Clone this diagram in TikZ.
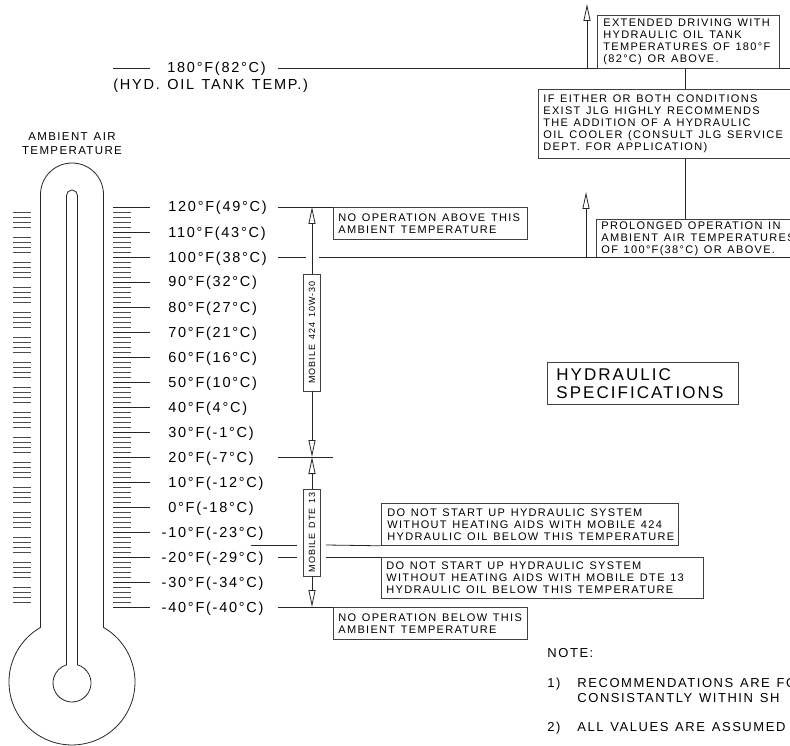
\documentclass[tikz,border=0pt]{standalone}
\usepackage{fontspec}
\newfontfamily\cadfont{Liberation Sans}[LetterSpace=12,WordSpace=1.3]
\usetikzlibrary{arrows.meta,calc,positioning}
\tikzset{
    jlg chart/.style  = {x=1pt, y=-1pt, line width=0.8pt,
                         >={Triangle[open, length=17pt, width=7pt]}},
    line/.style       = {draw=black!85},
    tickmark/.style   = {draw=black!70, line width=0.7pt},
    templabel/.style  = {font=\fontsize{14.5}{16}\cadfont,
                         anchor=base west, inner sep=0pt},
    box/.style        = {draw=black!75, anchor=north west, inner sep=0pt},
    boxtext/.style    = {font=\fontsize{11}{12}\cadfont, align=left,
                         anchor=west, inner sep=0pt},
    oil/.style        = {draw=black!75, minimum width=17pt, inner sep=0pt,
                         font=\fontsize{9}{10}\cadfont},
    notetext/.style   = {font=\fontsize{13}{15}\cadfont, align=left,
                         anchor=west, inner sep=0pt}
}
\begin{document}
\begin{tikzpicture}[jlg chart]
\useasboundingbox (0,0) rectangle (790,746);
\clip (0,0) rectangle (790,746);

% Thermometer outline and bore
\draw[line] (40.5,627.4) -- (40.5,194.5)
    arc[start angle=180, end angle=360, radius=31.5] -- (103.5,627.4)
    arc[start angle=-60, end angle=240, radius=63] -- cycle;
\draw[line] (66.5,664.8) -- (66.5,195.5)
    arc[start angle=180, end angle=360, radius=5.5] -- (77.5,664.8)
    arc[start angle=-73.2, end angle=253.2, radius=19];

% Graduations every 2 degrees
\foreach \k in {0,...,80}
    \draw[tickmark] (113,{207+5*\k}) -- (131,{207+5*\k});
\foreach \k in {1,...,79} {
    \pgfmathtruncatemacro\m{mod(\k,5)}
    \ifnum\m>0 \draw[tickmark] (13,{207+5*\k}) -- (31,{207+5*\k}); \fi
}

% Scale labels with major ticks
\foreach \txt [count=\i from 0] in {120°F(49°C), 110°F(43°C), 100°F(38°C),
        90°F(32°C), 80°F(27°C), 70°F(21°C), 60°F(16°C), 50°F(10°C),
        40°F(4°C), 30°F(-1°C), 20°F(-7°C), 10°F(-12°C), 0°F(-18°C),
        {\llap{-\hspace{2pt}}10°F(-23°C)}, {\llap{-\hspace{2pt}}20°F(-29°C)},
        {\llap{-\hspace{2pt}}30°F(-34°C)}, {\llap{-\hspace{2pt}}40°F(-40°C)}} {
    \coordinate (r\i) at (150,{207+25*\i});
    \draw[line] (113,{207+25*\i}) -- (r\i);
    \node[templabel] (t\i) at (168,{212+25*\i}) {\txt};
}
\node[font=\fontsize{11.5}{14}\cadfont, align=center] (ambient)
    at (72,143.5) {AMBIENT AIR\\TEMPERATURE};

% Tank temperature line
\node[templabel] (tank) at (167,73) {180°F(82°C)};
\node[templabel] (tanksub) at (113,90) {(HYD. OIL TANK TEMP.)};
\coordinate (lead) at (278,0);
\coordinate (tankl) at (113,68);
\coordinate (tankr) at (lead |- tankl);
\draw[line] (tankl) -- ++(37,0);
\draw[line] (tankr) -- ++(520,0);

% Condition boxes on the right
\node[box, minimum width=182pt, minimum height=53pt] (ext) at (597,15) {};
\node[boxtext] (exttxt) at ([xshift=6pt]ext.west)
    {EXTENDED DRIVING WITH\\HYDRAULIC OIL TANK\\TEMPERATURES OF 180°F\\(82°C) OR ABOVE.};
\node[box, minimum width=262pt, minimum height=69pt] (cooler) at (538,89) {};
\node[boxtext] (coolertxt) at ([xshift=5pt]cooler.west)
    {IF EITHER OR BOTH CONDITIONS\\EXIST JLG HIGHLY RECOMMENDS\\THE ADDITION OF A HYDRAULIC\\OIL COOLER (CONSULT JLG SERVICE\\DEPT. FOR APPLICATION)};
\node[box, minimum width=204pt, minimum height=38pt] (prolong) at (596,219) {};
\node[boxtext] (prolongtxt) at ([xshift=5pt]prolong.west)
    {PROLONGED OPERATION IN\\AMBIENT AIR TEMPERATURES\\OF 100°F(38°C) OR ABOVE.};
\coordinate (stem) at (685,0);
\draw[line] (ext.south -| stem) -- (cooler.north -| stem);
\draw[line] (cooler.south -| stem) -- (prolong.north -| stem);
\coordinate (hot) at (587,68);
\draw[line, ->] (hot) -- ++(0,-64);

% Oil ranges along the scale
\node[oil, minimum height=117pt] (oil424) at (312,332.5)
    {\rotatebox{90}{MOBILE 424 10W-30}};
\node[oil, minimum height=87pt] (oildte) at (312,532.5)
    {\rotatebox{90}{MOBILE DTE 13}};
\coordinate (ax120) at (oil424.north |- r0);
\coordinate (ax100) at (oil424.north |- r2);
\coordinate (ax20) at (oil424.north |- r10);
\coordinate (ax40) at (oil424.north |- r16);
\draw[line, <-] (ax120) -- (oil424.north);
\draw[line, ->] (oil424.south) -- (ax20);
\draw[line, ->] (oildte.north) -- (ax20);
\draw[line, ->] (oildte.south) -- (ax40);

% Limits
\node[box, minimum width=194pt, minimum height=32pt] (noabove) at (333,207) {};
\node[boxtext] (noabovetxt) at ([xshift=5pt]noabove.west)
    {NO OPERATION ABOVE THIS\\AMBIENT TEMPERATURE};
\draw[line] (lead |- r0) -- (noabove.north west);
\draw[line] (lead |- r2) -- ($(ax100)+(-6,0)$);
\draw[line] ($(ax100)+(7,0)$) -- ++(480,0);
\coordinate (warm) at (586,257);
\draw[line, ->] (warm) -- ++(0,-65);
\draw[line] (lead |- r10) -- ++(55,0);

\node[box, minimum width=297pt, minimum height=42pt] (start424) at (381,503) {};
\node[boxtext] (start424txt) at ([xshift=6pt]start424.west)
    {DO NOT START UP HYDRAULIC SYSTEM\\WITHOUT HEATING AIDS WITH MOBILE 424\\HYDRAULIC OIL BELOW THIS TEMPERATURE};
\node[box, minimum width=322pt, minimum height=41pt] (startdte) at (381,557) {};
\node[boxtext] (startdtetxt) at ([xshift=5pt]startdte.west)
    {DO NOT START UP HYDRAULIC SYSTEM\\WITHOUT HEATING AIDS WITH MOBILE DTE 13\\HYDRAULIC OIL BELOW THIS TEMPERATURE};
\coordinate (cold424) at (251,545);
\coordinate (colddte) at (lead |- r14);
\draw[line] (cold424) -- ($(oildte.west |- cold424)+(-6,0)$);
\draw[line] ($(oildte.east |- cold424)+(5,0)$) -- (start424.south west);
\draw[line] (colddte) -- ($(oildte.west |- colddte)+(-6,0)$);
\draw[line] ($(oildte.east |- colddte)+(5,0)$) -- (startdte.north west);

\node[box, minimum width=194pt, minimum height=32pt] (nobelow) at (333,607) {};
\node[boxtext] (nobelowtxt) at ([xshift=5pt]nobelow.west)
    {NO OPERATION BELOW THIS\\AMBIENT TEMPERATURE};
\draw[line] (lead |- r16) -- (nobelow.north west);

% Title and notes
\node[box, minimum width=191pt, minimum height=42pt] (spec) at (547,362) {};
\node[boxtext, font=\fontsize{17}{18}\cadfont] (spectxt) at ([xshift=9pt]spec.west)
    {HYDRAULIC\\SPECIFICATIONS};
\node[notetext] (note) at (547,653) {NOTE:};
\node[notetext] (note1) at (547,690.5)
    {\makebox[30pt][l]{1)}RECOMMENDATIONS ARE FO\\\hspace*{30pt}CONSISTANTLY WITHIN SH};
\node[notetext] (note2) at (547,728) {\makebox[30pt][l]{2)}ALL VALUES ARE ASSUMED};

\end{tikzpicture}
\end{document}
